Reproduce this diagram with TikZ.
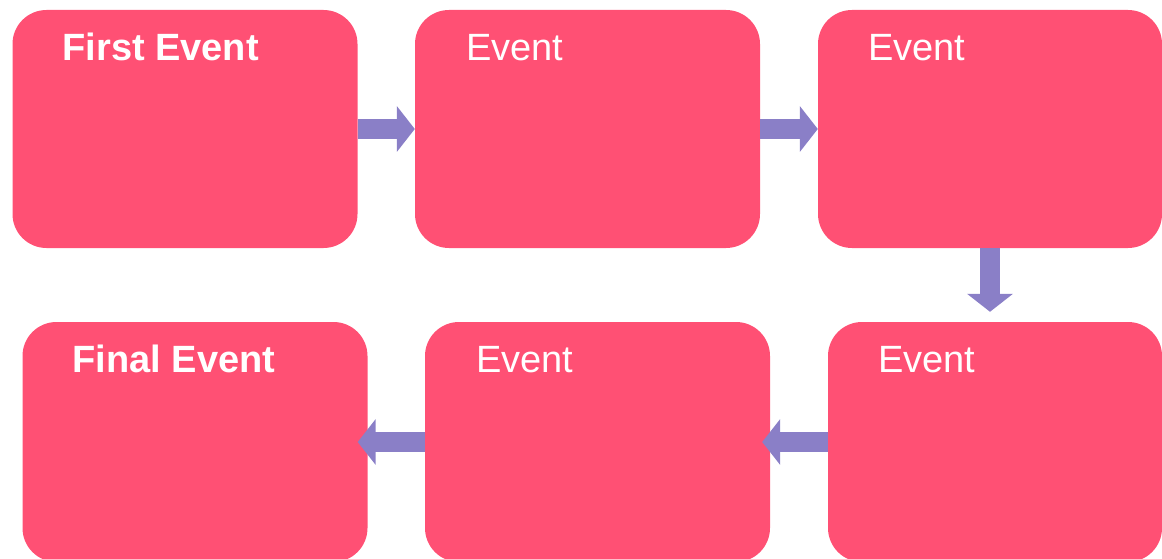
\documentclass[tikz,border=0pt]{standalone}
\usepackage{fontspec}
\setmainfont{Liberation Sans}
\usetikzlibrary{arrows.meta,positioning}
\definecolor{eventpink}{HTML}{FF5074}
\definecolor{flowpurple}{HTML}{8A7FC7}
\tikzset{
  eventbox/.style={fill=eventpink, rounded corners=34pt, minimum width=345pt, minimum height=238pt, inner sep=0pt},
  eventtext/.style={text=white, font=\fontsize{38}{42}\selectfont, anchor=base west, inner sep=0pt},
  flow/.style={draw=flowpurple, line width=20pt, -{Triangle[length=18pt,width=45pt]}},
}
\begin{document}
\begin{tikzpicture}[x=1pt,y=-1pt]
\useasboundingbox (0,0) rectangle (1162,559);
% top row
\node [eventbox] (b1) at (185,129) {};
\node [eventbox] (b2) at (587.5,129) {};
\node [eventbox, minimum width=344pt] (b3) at (990,129) {};
% bottom row
\node [eventbox, minimum height=240pt] (b4) at (195,442) {};
\node [eventbox, minimum height=240pt] (b5) at (597.5,442) {};
\node [eventbox, minimum width=334pt, minimum height=240pt] (b6) at (995,442) {};

\node [eventtext, font=\bfseries\fontsize{38}{42}\selectfont] (t1) at ([xshift=50pt,yshift=-51pt]b1.north west) {First Event};
\node [eventtext] (t2) at ([xshift=51pt,yshift=-51pt]b2.north west) {Event};
\node [eventtext] (t3) at ([xshift=50pt,yshift=-51pt]b3.north west) {Event};
\node [eventtext, font=\bfseries\fontsize{38}{42}\selectfont] (t4) at ([xshift=50pt,yshift=-51pt]b4.north west) {Final Event};
\node [eventtext] (t5) at ([xshift=51pt,yshift=-51pt]b5.north west) {Event};
\node [eventtext] (t6) at ([xshift=50pt,yshift=-51pt]b6.north west) {Event};

\draw [flow] (b1.east) -- (b2.west);
\draw [flow] (b2.east) -- (b3.west);
\draw [flow] (b3.south) -- ([yshift=10pt]b3.south |- b6.north);
\draw [flow] (b6.west) -- ([xshift=-8pt]b5.east);
\draw [flow] (b5.west) -- ([xshift=-10pt]b4.east);

\end{tikzpicture}
\end{document}
